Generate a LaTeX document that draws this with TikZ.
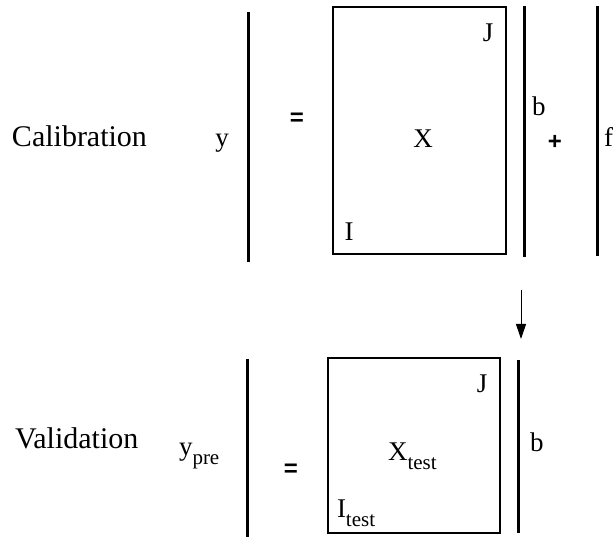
\documentclass[tikz,border=0pt]{standalone}
\usepackage{fontspec}
\setmainfont{Liberation Serif}
\newfontfamily\opfont{Liberation Sans}
\usetikzlibrary{arrows.meta}
\newcommand\lowsub[1]{\raisebox{-0.34em}{\fontsize{21}{24}\selectfont #1}}
\tikzset{
  lbl/.style={inner sep=0pt, outer sep=0pt, font=\fontsize{30}{36}\selectfont},
  var/.style={inner sep=0pt, outer sep=0pt, font=\fontsize{27}{31}\selectfont},
  op/.style={inner sep=0pt, outer sep=0pt, font=\opfont\bfseries\fontsize{24}{28}\selectfont},
  vec/.style={line width=3pt},
  mat/.style={line width=2pt}
}
\begin{document}
\begin{tikzpicture}[x=1pt,y=-1pt]
\useasboundingbox (0,0) rectangle (616,537);

% Row labels
\node[lbl, anchor=base west] (cal) at (12,147) {Calibration};
\node[lbl, anchor=base west] (val) at (15,448) {Validation};

% Calibration: y = X b + f
\node[var, anchor=base] (y) at (222,147) {y};
\draw[vec] (248,12) -- (248,262);
\node[op] (eqa) at (297,119) {=};
\draw[mat] (333,7) rectangle (506,254);
\node[var, anchor=base] (xmat) at (423,148) {X};
\node[var, anchor=base] (ja) at (488,42) {J};
\node[var, anchor=base] (ia) at (349,241) {I};
\draw[vec] (524,6) -- (524,257);
\node[var, anchor=base west] (ba) at (532,116) {b};
\node[op] (plus) at (555,142) {+};
\draw[vec] (597,6) -- (597,256);
\node[var, anchor=base west] (f) at (604,147) {f};

% Validation: y_pre = X_test b
\node[var, anchor=base west] (ypre) at (179,455) {y\lowsub{pre}};
\draw[vec] (247,359) -- (247,540);
\node[op] (eqb) at (291,470) {=};
\draw[mat] (328,358) rectangle (500,533);
\node[var, anchor=base west] (xtest) at (388,460) {X\lowsub{test}};
\node[var, anchor=base] (jb) at (482,392) {J};
\node[var, anchor=base west] (itest) at (337,517) {I\lowsub{test}};
\draw[vec] (518,360) -- (518,533);
\node[var, anchor=base west] (bb) at (530,451) {b};

% Arrow
\coordinate (arrtop) at (521,290);
\coordinate (arrbot) at (521,339);
\draw[line width=1pt, -{Stealth[length=15pt,width=10pt,inset=0pt]}] (arrtop) -- (arrbot);
\end{tikzpicture}
\end{document}
